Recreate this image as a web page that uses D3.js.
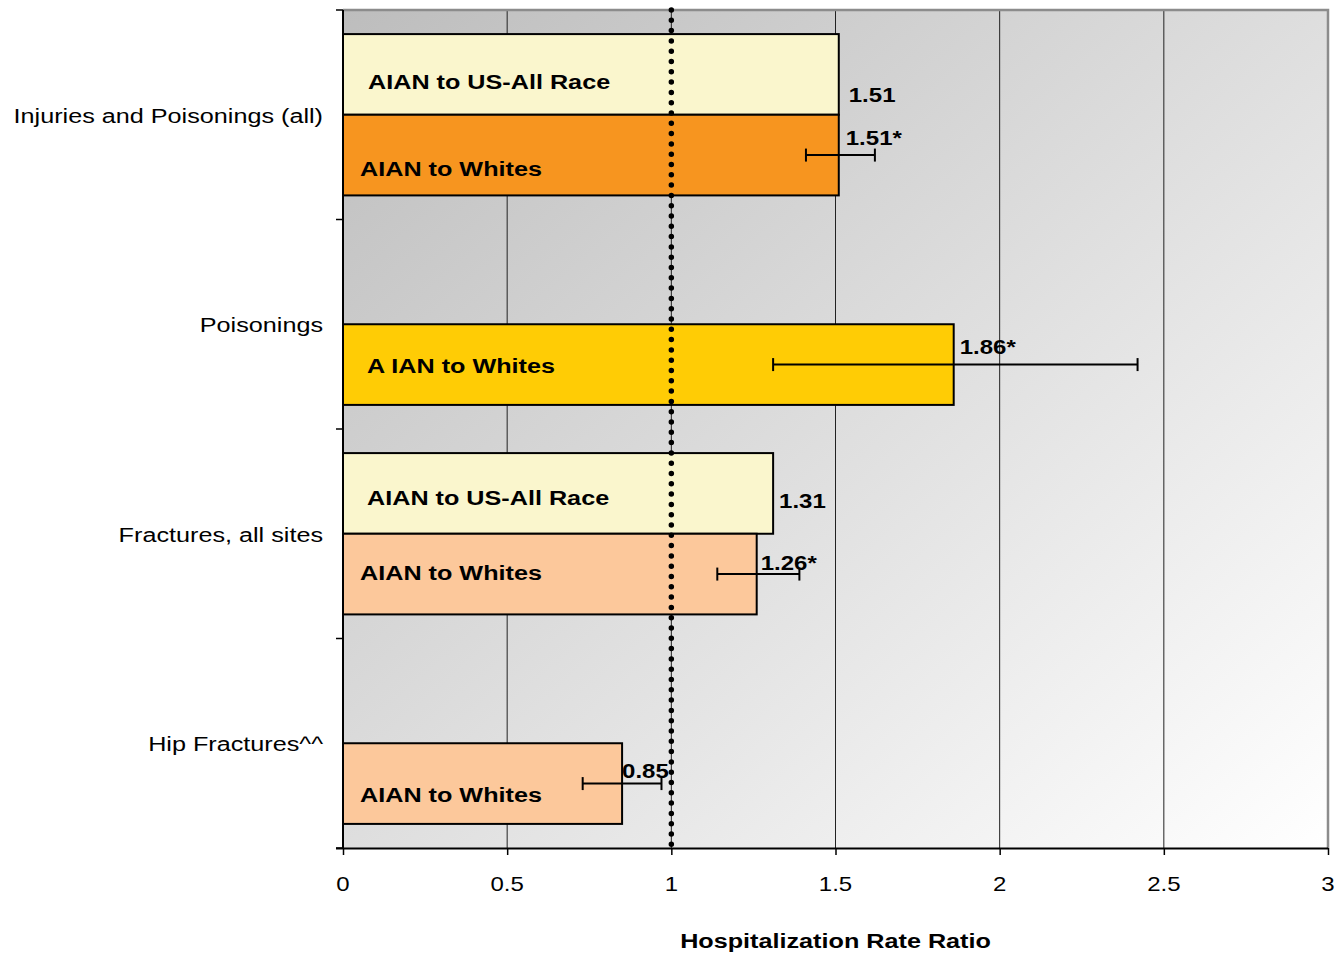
<!DOCTYPE html>
<html>
<head>
<meta charset="utf-8">
<script src="https://cdn.jsdelivr.net/npm/d3@7"></script>
<style>
  html, body { margin: 0; padding: 0; background: #fff; }
  svg { display: block; font-family: "Liberation Sans", Arial, sans-serif; }
</style>
</head>
<body>
<svg id="chart" width="1341" height="953"></svg>
<script>
// categories, top to bottom
const categories = ['Injuries and Poisonings (all)', 'Poisonings', 'Fractures, all sites', 'Hip Fractures^^'];
const seriesNames = ['AIAN to US-All Race', 'AIAN to Whites'];

// rate ratios (null = no bar)
const usAllValues = [1.51, null, 1.31, null];
const whitesValues = [1.51, 1.86, 1.26, 0.85];
// 95% CI for the AIAN to Whites ratios
const whitesLow = [1.41, 1.31, 1.14, 0.73];
const whitesHigh = [1.62, 2.42, 1.39, 0.97];
const whitesSignificant = [true, true, true, false];

// text printed inside the bars (original has "A IAN" on poisonings)
const usAllBarText = ['AIAN to US-All Race', null, 'AIAN to US-All Race', null];
const whitesBarText = ['AIAN to Whites', 'A IAN to Whites', 'AIAN to Whites', 'AIAN to Whites'];

const xTicks = [0, 0.5, 1, 1.5, 2, 2.5, 3];

// label nudges, [dx, dy] from bar end / bar centre
const usAllValueNudge = [[10, 28], null, [6, 15], null];
const whitesValueNudge = [[7, -10], [6, -11], [4, -4], [0, -6]];
const usAllTextNudge = [[25, 15], null, [24, 12], null];
const whitesTextNudge = [[17, 21], [24, 8], [17, 6], [17, 18]];

const colUsAll = '#faf6cd';
const colWhites = ['#f7951f', '#ffcc05', '#fcc89b', '#fcc89b'];

const svg = d3.select('#chart');
const m = { left: 343, right: 1328, top: 10, bottom: 848 };
const SX = 1.2; // text in the source is stretched horizontally

const x = d3.scaleLinear().domain([0, 3]).range([m.left, m.right]);
const y = d3.scaleBand().domain(categories).range([m.top, m.bottom])
  .paddingInner(0.23).paddingOuter(0.115);
const ySub = d3.scaleBand().domain(seriesNames).range([0, y.bandwidth()]);

function addText(parent, tx, ty, str, size, weight, anchor) {
  return parent.append('text')
    .attr('transform', `translate(${tx},${ty}) scale(${SX},1)`)
    .attr('text-anchor', anchor || 'start')
    .style('font-size', size + 'px')
    .style('font-weight', weight || 'normal')
    .attr('fill', '#000')
    .text(str);
}

// background gradient
const defs = svg.append('defs');
const grad = defs.append('linearGradient').attr('id', 'bg')
  .attr('x1', 0).attr('y1', 0).attr('x2', 1).attr('y2', 1);
grad.append('stop').attr('offset', 0).attr('stop-color', '#bdbdbd');
grad.append('stop').attr('offset', 1).attr('stop-color', '#ffffff');

svg.append('rect')
  .attr('x', m.left).attr('y', m.top)
  .attr('width', m.right - m.left).attr('height', m.bottom - m.top)
  .attr('fill', 'url(#bg)');

// grid
svg.append('g').selectAll('line')
  .data(xTicks.filter(d => d > 0 && d < 3))
  .join('line')
  .attr('x1', d => x(d)).attr('x2', d => x(d))
  .attr('y1', m.top).attr('y2', m.bottom)
  .attr('stroke', '#222').attr('stroke-width', 1);

// plot border top / right
svg.append('path')
  .attr('d', `M${m.left},${m.top}H${m.right}V${m.bottom}`)
  .attr('fill', 'none').attr('stroke', '#8c8c8c').attr('stroke-width', 2.5);

// bars
const bars = svg.append('g');
categories.forEach((c, i) => {
  const y0 = y(c);
  if (usAllValues[i] != null) {
    bars.append('rect')
      .attr('x', x(0)).attr('y', y0 + ySub(seriesNames[0]))
      .attr('width', x(usAllValues[i]) - x(0)).attr('height', ySub.bandwidth())
      .attr('fill', colUsAll).attr('stroke', '#000').attr('stroke-width', 2);
  }
  bars.append('rect')
    .attr('x', x(0)).attr('y', y0 + ySub(seriesNames[1]))
    .attr('width', x(whitesValues[i]) - x(0)).attr('height', ySub.bandwidth())
    .attr('fill', colWhites[i]).attr('stroke', '#000').attr('stroke-width', 2);
});

// text inside bars
categories.forEach((c, i) => {
  const y0 = y(c);
  if (usAllBarText[i]) {
    const cy = y0 + ySub(seriesNames[0]) + ySub.bandwidth() / 2;
    addText(svg, x(0) + usAllTextNudge[i][0], cy + usAllTextNudge[i][1], usAllBarText[i], 21, 'bold');
  }
  const cy = y0 + ySub(seriesNames[1]) + ySub.bandwidth() / 2;
  addText(svg, x(0) + whitesTextNudge[i][0], cy + whitesTextNudge[i][1], whitesBarText[i], 21, 'bold');
});

// error bars
const eb = svg.append('g').attr('stroke', '#000').attr('stroke-width', 2);
categories.forEach((c, i) => {
  const cy = y(c) + ySub(seriesNames[1]) + ySub.bandwidth() / 2;
  eb.append('line').attr('x1', x(whitesLow[i])).attr('x2', x(whitesHigh[i]))
    .attr('y1', cy).attr('y2', cy);
  [whitesLow[i], whitesHigh[i]].forEach(v => {
    eb.append('line').attr('x1', x(v)).attr('x2', x(v))
      .attr('y1', cy - 6.5).attr('y2', cy + 6.5);
  });
});

// reference line at 1
svg.append('line')
  .attr('x1', x(1)).attr('x2', x(1))
  .attr('y1', m.top).attr('y2', m.bottom)
  .attr('stroke', '#000').attr('stroke-width', 5.5)
  .attr('stroke-linecap', 'round')
  .attr('stroke-dasharray', '0 10.3');

// value labels
categories.forEach((c, i) => {
  if (usAllValues[i] != null) {
    const cy = y(c) + ySub(seriesNames[0]) + ySub.bandwidth() / 2;
    addText(svg, x(usAllValues[i]) + usAllValueNudge[i][0], cy + usAllValueNudge[i][1],
      usAllValues[i].toFixed(2), 20, 'bold');
  }
  const cy = y(c) + ySub(seriesNames[1]) + ySub.bandwidth() / 2;
  addText(svg, x(whitesValues[i]) + whitesValueNudge[i][0], cy + whitesValueNudge[i][1],
    whitesValues[i].toFixed(2) + (whitesSignificant[i] ? '*' : ''), 20, 'bold');
});

// axes
const xAxis = d3.axisBottom(x).tickValues(xTicks).tickSize(7).tickFormat('');
const gx = svg.append('g').attr('transform', `translate(0,${m.bottom})`).call(xAxis);
gx.select('.domain').attr('d', `M${m.left - 7},0.5H${m.right}`).attr('stroke', '#000').attr('stroke-width', 2);
gx.selectAll('.tick line').attr('stroke', '#000').attr('stroke-width', 1.5);
xTicks.forEach(t => addText(svg, x(t), 891, d3.format('')(t), 20, 'normal', 'middle'));

const yTickPos = categories.map(c => y(c) - y.step() * y.paddingInner() / 2).concat([m.bottom]);
yTickPos[0] = m.top;
svg.append('line').attr('x1', m.left).attr('x2', m.left)
  .attr('y1', m.top).attr('y2', m.bottom).attr('stroke', '#000').attr('stroke-width', 2);
svg.append('g').selectAll('line').data(yTickPos).join('line')
  .attr('x1', m.left - 7).attr('x2', m.left)
  .attr('y1', d => d).attr('y2', d => d)
  .attr('stroke', '#000').attr('stroke-width', 1.5);

categories.forEach(c => {
  addText(svg, 323, y(c) + y.bandwidth() / 2 + 8, c, 21, 'normal', 'end');
});

addText(svg, (m.left + m.right) / 2, 948, 'Hospitalization Rate Ratio', 21, 'bold', 'middle');
</script>
</body>
</html>
